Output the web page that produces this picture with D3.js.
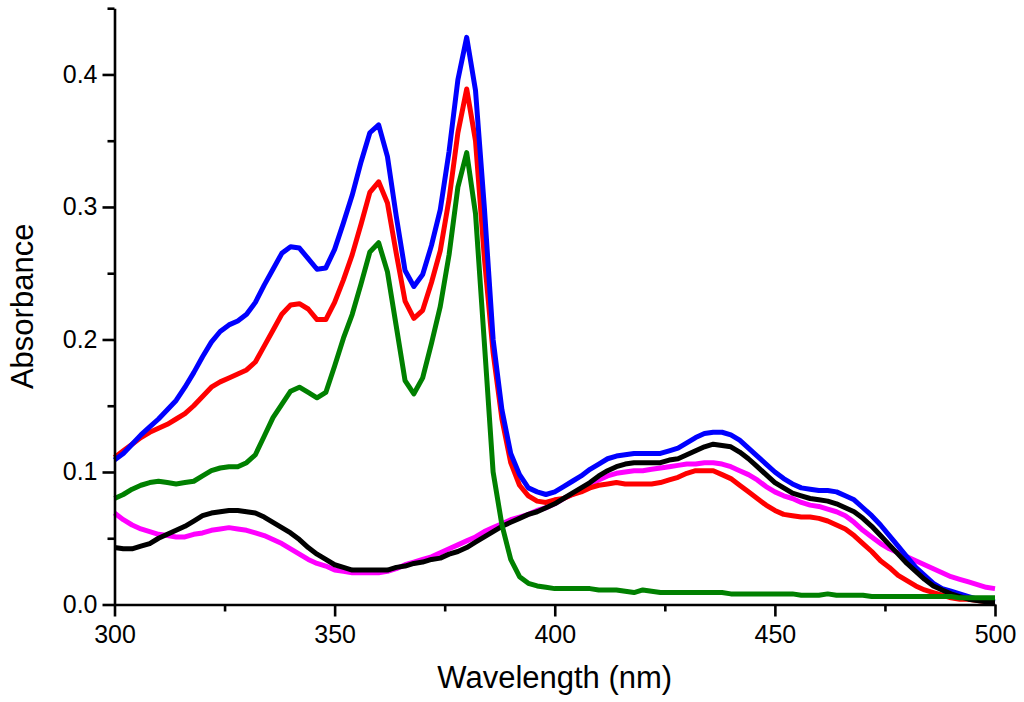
<!DOCTYPE html>
<html>
<head>
<meta charset="utf-8">
<script src="https://cdn.jsdelivr.net/npm/d3@7"></script>
<style>
  html, body { margin: 0; padding: 0; background: #fff; }
  svg { display: block; }
  .axis text { font-family: "Liberation Sans", Arial, sans-serif; font-size: 25px; fill: #000; }
  .axis path, .axis line { stroke: #000; stroke-width: 2.6px; }
  .title { font-family: "Liberation Sans", Arial, sans-serif; font-size: 31px; fill: #000; }
</style>
</head>
<body>
<script>
// wavelengths (nm), one reading every 2 nm
var wavelengths = [
  300, 302, 304, 306, 308, 310, 312, 314, 316, 318,
  320, 322, 324, 326, 328, 330, 332, 334, 336, 338,
  340, 342, 344, 346, 348, 350, 352, 354, 356, 358,
  360, 362, 364, 366, 368, 370, 372, 374, 376, 378,
  380, 382, 384, 386, 388, 390, 392, 394, 396, 398,
  400, 402, 404, 406, 408, 410, 412, 414, 416, 418,
  420, 422, 424, 426, 428, 430, 432, 434, 436, 438,
  440, 442, 444, 446, 448, 450, 452, 454, 456, 458,
  460, 462, 464, 466, 468, 470, 472, 474, 476, 478,
  480, 482, 484, 486, 488, 490, 492, 494, 496, 498,
  500
];

var blueAbs = [
  0.109, 0.114, 0.121, 0.128, 0.134, 0.140, 0.147, 0.154, 0.164, 0.175,
  0.187, 0.198, 0.206, 0.211, 0.214, 0.219, 0.228, 0.241, 0.253, 0.265,
  0.270, 0.269, 0.261, 0.253, 0.254, 0.268, 0.288, 0.309, 0.334, 0.356,
  0.362, 0.338, 0.293, 0.252, 0.240, 0.249, 0.271, 0.298, 0.342, 0.396,
  0.428, 0.388, 0.300, 0.200, 0.147, 0.114, 0.098, 0.088, 0.085, 0.083,
  0.085, 0.089, 0.093, 0.097, 0.102, 0.106, 0.110, 0.112, 0.113, 0.114,
  0.114, 0.114, 0.114, 0.116, 0.118, 0.122, 0.126, 0.129, 0.130, 0.130,
  0.128, 0.124, 0.118, 0.112, 0.106, 0.100, 0.095, 0.091, 0.088, 0.087,
  0.086, 0.086, 0.085, 0.082, 0.079, 0.073, 0.067, 0.060, 0.052, 0.044,
  0.036, 0.028, 0.022, 0.016, 0.012, 0.010, 0.008, 0.006, 0.004, 0.003,
  0.002
];

var redAbs = [
  0.111, 0.116, 0.121, 0.126, 0.130, 0.133, 0.136, 0.140, 0.144, 0.150,
  0.157, 0.164, 0.168, 0.171, 0.174, 0.177, 0.183, 0.195, 0.207, 0.219,
  0.226, 0.227, 0.223, 0.215, 0.215, 0.228, 0.245, 0.264, 0.287, 0.311,
  0.319, 0.303, 0.265, 0.229, 0.216, 0.222, 0.243, 0.267, 0.306, 0.356,
  0.389, 0.350, 0.262, 0.190, 0.140, 0.107, 0.090, 0.082, 0.078, 0.077,
  0.079, 0.080, 0.083, 0.085, 0.088, 0.090, 0.091, 0.092, 0.091, 0.091,
  0.091, 0.091, 0.092, 0.094, 0.096, 0.099, 0.101, 0.101, 0.101, 0.098,
  0.095, 0.090, 0.085, 0.080, 0.075, 0.071, 0.068, 0.067, 0.066, 0.066,
  0.065, 0.063, 0.060, 0.057, 0.052, 0.046, 0.040, 0.033, 0.028, 0.022,
  0.018, 0.014, 0.011, 0.009, 0.007, 0.005, 0.004, 0.004, 0.003, 0.002,
  0.002
];

var greenAbs = [
  0.080, 0.083, 0.087, 0.090, 0.092, 0.093, 0.092, 0.091, 0.092, 0.093,
  0.097, 0.101, 0.103, 0.104, 0.104, 0.107, 0.113, 0.127, 0.141, 0.151,
  0.161, 0.164, 0.160, 0.156, 0.160, 0.180, 0.201, 0.219, 0.242, 0.266,
  0.273, 0.251, 0.210, 0.169, 0.159, 0.171, 0.197, 0.225, 0.264, 0.315,
  0.341, 0.295, 0.198, 0.100, 0.060, 0.034, 0.021, 0.016, 0.014, 0.013,
  0.012, 0.012, 0.012, 0.012, 0.012, 0.011, 0.011, 0.011, 0.010, 0.009,
  0.011, 0.010, 0.009, 0.009, 0.009, 0.009, 0.009, 0.009, 0.009, 0.009,
  0.008, 0.008, 0.008, 0.008, 0.008, 0.008, 0.008, 0.008, 0.007, 0.007,
  0.007, 0.008, 0.007, 0.007, 0.007, 0.007, 0.006, 0.006, 0.006, 0.006,
  0.006, 0.006, 0.006, 0.006, 0.006, 0.006, 0.005, 0.005, 0.005, 0.005,
  0.005
];

var blackAbs = [
  0.043, 0.042, 0.042, 0.044, 0.046, 0.050, 0.053, 0.056, 0.059, 0.063,
  0.067, 0.069, 0.070, 0.071, 0.071, 0.070, 0.069, 0.066, 0.062, 0.058,
  0.054, 0.049, 0.043, 0.038, 0.034, 0.030, 0.028, 0.026, 0.026, 0.026,
  0.026, 0.026, 0.028, 0.029, 0.031, 0.032, 0.034, 0.035, 0.038, 0.040,
  0.043, 0.047, 0.051, 0.055, 0.059, 0.062, 0.065, 0.068, 0.070, 0.073,
  0.076, 0.080, 0.084, 0.088, 0.092, 0.097, 0.101, 0.104, 0.106, 0.107,
  0.107, 0.107, 0.107, 0.109, 0.110, 0.113, 0.116, 0.119, 0.121, 0.120,
  0.119, 0.115, 0.110, 0.104, 0.098, 0.092, 0.088, 0.084, 0.082, 0.080,
  0.079, 0.078, 0.076, 0.073, 0.070, 0.065, 0.059, 0.052, 0.045, 0.038,
  0.031, 0.025, 0.019, 0.014, 0.011, 0.008, 0.006, 0.004, 0.003, 0.002,
  0.002
];

var magentaAbs = [
  0.069, 0.064, 0.060, 0.057, 0.055, 0.053, 0.052, 0.051, 0.051, 0.053,
  0.054, 0.056, 0.057, 0.058, 0.057, 0.056, 0.054, 0.052, 0.049, 0.046,
  0.042, 0.038, 0.034, 0.031, 0.029, 0.026, 0.025, 0.024, 0.024, 0.024,
  0.024, 0.025, 0.027, 0.030, 0.032, 0.034, 0.036, 0.039, 0.042, 0.045,
  0.048, 0.051, 0.055, 0.058, 0.061, 0.064, 0.066, 0.068, 0.071, 0.073,
  0.076, 0.080, 0.083, 0.087, 0.091, 0.094, 0.097, 0.099, 0.100, 0.101,
  0.101, 0.102, 0.103, 0.104, 0.105, 0.106, 0.106, 0.107, 0.107, 0.106,
  0.104, 0.101, 0.098, 0.094, 0.089, 0.085, 0.082, 0.080, 0.077, 0.075,
  0.074, 0.072, 0.070, 0.067, 0.062, 0.056, 0.051, 0.046, 0.042, 0.039,
  0.036, 0.033, 0.030, 0.027, 0.024, 0.021, 0.019, 0.017, 0.015, 0.013,
  0.012
];

var xMajorTicks = [300, 350, 400, 450, 500];
var xMinorTicks = [325, 375, 425, 475];
var yMajorTicks = [0.0, 0.1, 0.2, 0.3, 0.4];
var yMinorTicks = [0.05, 0.15, 0.25, 0.35, 0.45];

// drawing order: first is at the bottom
var series = [
  { name: 'magenta', color: '#ff00ff', values: magentaAbs },
  { name: 'red', color: '#ff0000', values: redAbs },
  { name: 'blue', color: '#0000ff', values: blueAbs },
  { name: 'black', color: '#000000', values: blackAbs },
  { name: 'green', color: '#008000', values: greenAbs }
];

var width = 1024, height = 702;
var plotLeft = 114.5, plotRight = 995, plotTop = 8.2, plotBottom = 604.5;

var svg = d3.select('body').append('svg')
  .attr('width', width)
  .attr('height', height);

var x = d3.scaleLinear().domain([300, 500]).range([plotLeft, plotRight]);
var y = d3.scaleLinear().domain([0, 0.45]).range([plotBottom, plotTop]);

var line = d3.line()
  .x(function(d) { return x(d[0]); })
  .y(function(d) { return y(d[1]); });

series.forEach(function(s) {
  svg.append('path')
    .datum(wavelengths.map(function(w, i) { return [w, s.values[i]]; }))
    .attr('fill', 'none')
    .attr('stroke', s.color)
    .attr('stroke-width', 5)
    .attr('stroke-linejoin', 'round')
    .attr('d', line);
});

// minor ticks (no labels)
svg.append('g')
  .attr('class', 'axis')
  .attr('transform', 'translate(0,' + plotBottom + ')')
  .call(d3.axisBottom(x).tickValues(xMinorTicks).tickSize(7).tickFormat(''))
  .call(function(g) { g.select('.domain').remove(); });

svg.append('g')
  .attr('class', 'axis')
  .attr('transform', 'translate(' + plotLeft + ',0)')
  .call(d3.axisLeft(y).tickValues(yMinorTicks).tickSize(7).tickFormat(''))
  .call(function(g) { g.select('.domain').remove(); });

// major ticks with labels
svg.append('g')
  .attr('class', 'axis')
  .attr('transform', 'translate(0,' + plotBottom + ')')
  .call(d3.axisBottom(x).tickValues(xMajorTicks).tickSize(12).tickSizeOuter(0)
    .tickPadding(9).tickFormat(d3.format('d')));

svg.append('g')
  .attr('class', 'axis')
  .attr('transform', 'translate(' + plotLeft + ',0)')
  .call(d3.axisLeft(y).tickValues(yMajorTicks).tickSize(12).tickSizeOuter(0)
    .tickPadding(5).tickFormat(d3.format('.1f')));

// axis titles
svg.append('text')
  .attr('class', 'title')
  .attr('x', (plotLeft + plotRight) / 2)
  .attr('y', 688)
  .attr('text-anchor', 'middle')
  .text('Wavelength (nm)');

svg.append('text')
  .attr('class', 'title')
  .attr('transform', 'translate(33,' + (plotTop + plotBottom) / 2 + ') rotate(-90)')
  .attr('text-anchor', 'middle')
  .text('Absorbance');
</script>
</body>
</html>
